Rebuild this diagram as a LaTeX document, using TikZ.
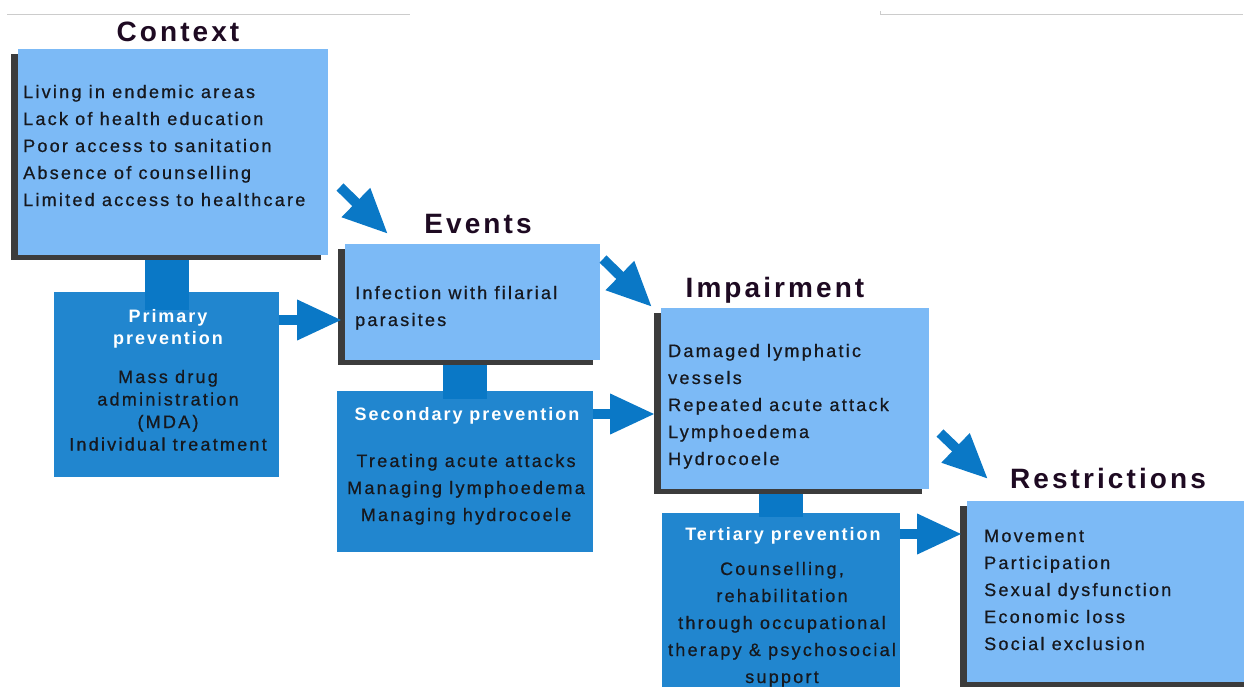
\documentclass[tikz,border=0pt]{standalone}
\usepackage{fontspec}
\setmainfont{Liberation Sans}[LetterSpace=11]
\newfontfamily\bodyfont{Liberation Sans}[LetterSpace=12.5, FakeBold=0.7]
\usetikzlibrary{arrows.meta,shadows}
\definecolor{lightblue}{HTML}{7CBAF6}
\definecolor{prevblue}{HTML}{2186CF}
\definecolor{barblue}{HTML}{0A78C6}
\definecolor{arrowblue}{HTML}{0A78C6}
\definecolor{shadowgray}{HTML}{3C3C3C}
\definecolor{titlecol}{HTML}{1E0A22}
\definecolor{bodycol}{HTML}{16181E}
\definecolor{linegray}{HTML}{CCCCCC}
\pgfdeclarelayer{back}
\pgfdeclarelayer{mid}
\pgfsetlayers{back,mid,main}
\begin{document}
\begin{tikzpicture}[x=1pt,y=-1pt,
  lightbox/.style={fill=lightblue, draw=none, anchor=north west, inner sep=0pt, outer sep=0pt,
    general shadow={fill=shadowgray, shadow xshift=-7pt, shadow yshift=-5pt}},
  prevbox/.style={fill=prevblue, draw=none, anchor=north west, inner sep=0pt, outer sep=0pt},
  bodytext/.style={anchor=base west, inner sep=0pt, text=bodycol, font=\bodyfont\fontsize{18}{27}\selectfont},
  ctext/.style={anchor=base, inner sep=0pt, text=bodycol, font=\bodyfont\fontsize{18}{27}\selectfont},
  ctexttight/.style={anchor=base, inner sep=0pt, text=bodycol, font=\bodyfont\fontsize{18}{22.5}\selectfont},
  whitehead/.style={anchor=base, inner sep=0pt, text=white, font=\bfseries\fontsize{18}{22}\selectfont},
  heading/.style={anchor=base, inner sep=0pt, text=titlecol, font=\bfseries\fontsize{28}{34}\selectfont},
  bigarrow/.style={draw=arrowblue, line width=10pt, -{Triangle[width=38pt,length=45pt]}},
  bar/.style={draw=barblue, line width=44pt},
  topline/.style={draw=linegray, line width=1pt}
]
\useasboundingbox (0,0) rectangle (1244,686);

% top rules
\draw[topline] (7,14) -- (410,14);
\draw[topline] (880,11) -- (880,14) -- (1243,14);

% light boxes (with shadows)
\node[lightbox, minimum width=310pt, minimum height=206pt] (ctx) at (18,49) {};
\node[lightbox, minimum width=255pt, minimum height=116pt] (events) at (345,244) {};
\node[lightbox, minimum width=268pt, minimum height=181pt] (imp) at (661,308) {};
\node[lightbox, minimum width=290pt, minimum height=181pt] (res) at (967,501) {};

% prevention boxes
\begin{pgfonlayer}{back}
\node[prevbox, minimum width=225pt, minimum height=185pt] (prim) at (54,292) {};
\node[prevbox, minimum width=256pt, minimum height=161pt] (sec) at (337,391) {};
\node[prevbox, minimum width=238pt, minimum height=180pt] (ter) at (662,513) {};
\end{pgfonlayer}

% connecting bars
\begin{pgfonlayer}{mid}
\draw[bar] (prim.north |- ctx.south) -- ([yshift=-18pt]prim.north);
\draw[bar] (sec.north |- events.south) -- ([yshift=-8pt]sec.north);
\draw[bar] (ter.north |- imp.south) -- ([yshift=-4pt]ter.north);
\end{pgfonlayer}

% headings
\node[heading] (ctxhead) at (178,41) {Context};
\node[heading] (evhead) at (478,233) {Events};
\node[heading] (imphead) at (775,297) {Impairment};
\node[heading] (reshead) at (1108,488) {Restrictions};

% body texts of light boxes
\node[bodytext] (ctxtext) at (23,98) {\begin{tabular}[t]{@{}l@{}}Living in endemic areas\\ Lack of health education\\ Poor access to sanitation\\ Absence of counselling\\ Limited access to healthcare\end{tabular}};
\node[bodytext] (evtext) at (355,299) {\begin{tabular}[t]{@{}l@{}}Infection with filarial\\ parasites\end{tabular}};
\node[bodytext] (imptext) at (668,357) {\begin{tabular}[t]{@{}l@{}}Damaged lymphatic\\ vessels\\ Repeated acute attack\\ Lymphoedema\\ Hydrocoele\end{tabular}};
\node[bodytext] (restext) at (984,542) {\begin{tabular}[t]{@{}l@{}}Movement\\ Participation\\ Sexual dysfunction\\ Economic loss\\ Social exclusion\end{tabular}};

% prevention texts
\node[whitehead] (primhead) at (168,322) {\begin{tabular}[t]{@{}c@{}}Primary\\ prevention\end{tabular}};
\node[ctexttight] (primtext) at (168,383) {\begin{tabular}[t]{@{}c@{}}Mass drug\\ administration\\ (MDA)\\ Individual treatment\end{tabular}};
\node[whitehead] (sechead) at (467,420) {Secondary prevention};
\node[ctext] (sectext) at (466,467) {\begin{tabular}[t]{@{}c@{}}Treating acute attacks\\ Managing lymphoedema\\ Managing hydrocoele\end{tabular}};
\node[whitehead] (terhead) at (783,540) {Tertiary prevention};
\node[ctext] (tertext) at (782,575) {\begin{tabular}[t]{@{}c@{}}Counselling,\\ rehabilitation\\ through occupational\\ therapy \& psychosocial\\ support\end{tabular}};

% horizontal arrows
\draw[bigarrow] (prim.east |- 0,320) -- ([xshift=-3pt]events.west |- 0,320);
\draw[bigarrow] (sec.east |- 0,414) -- ([xshift=-6pt]imp.west |- 0,414);
\draw[bigarrow] (ter.east |- 0,534) -- ([xshift=-5pt]res.west |- 0,534);

% diagonal arrows
\coordinate (d1s) at (340,187); \coordinate (d1e) at (388,234);
\coordinate (d2s) at (603,259); \coordinate (d2e) at (652,307);
\coordinate (d3s) at (940,433); \coordinate (d3e) at (988,479);
\draw[bigarrow] (d1s) -- (d1e);
\draw[bigarrow] (d2s) -- (d2e);
\draw[bigarrow] (d3s) -- (d3e);
\end{tikzpicture}
\end{document}
